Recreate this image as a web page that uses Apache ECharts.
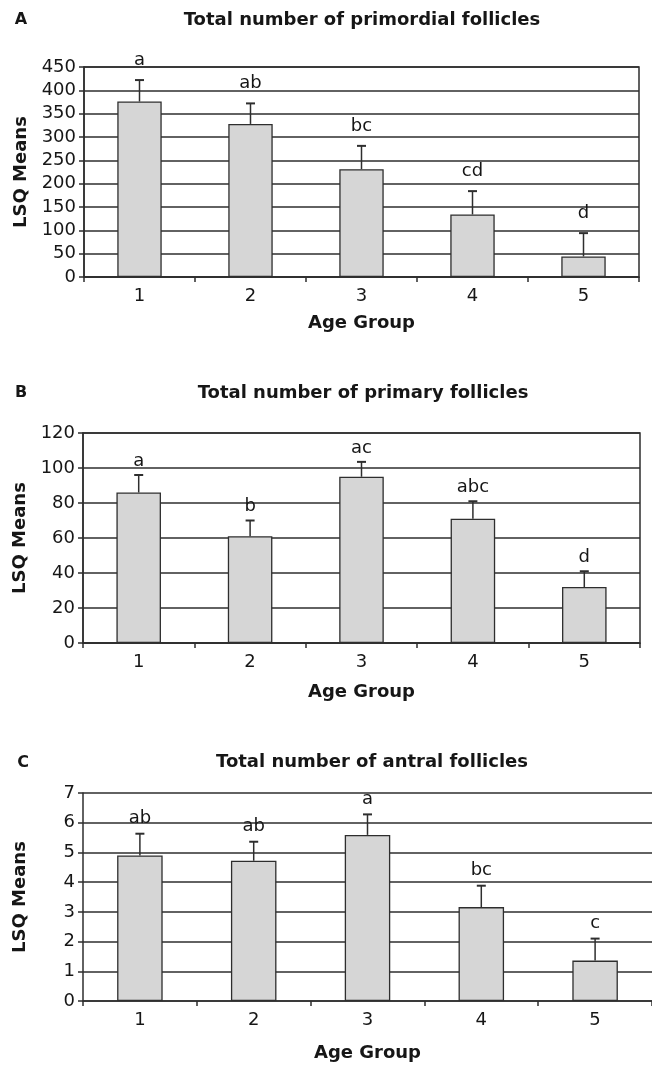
<!DOCTYPE html>
<html><head><meta charset="utf-8">
<script src="https://cdn.jsdelivr.net/npm/echarts@6/dist/echarts.min.js"></script>
<style>html,body{margin:0;padding:0;background:#fff;overflow:hidden}#c{width:652px;height:1070px}</style>
</head><body><div id="c"></div>
<script>
// ---- data ----
const categories = ['1', '2', '3', '4', '5'];

const primordialMeans   = [376, 328, 231, 134, 44];
const primordialUpper   = [422, 372, 281, 184, 94];
const primordialLetters = ['a', 'ab', 'bc', 'cd', 'd'];

const primaryMeans   = [86, 61, 95, 71, 32];
const primaryUpper   = [96, 70, 103.5, 81, 41];
const primaryLetters = ['a', 'b', 'ac', 'abc', 'd'];

const antralMeans   = [4.9, 4.72, 5.59, 3.16, 1.36];
const antralUpper   = [5.63, 5.36, 6.28, 3.88, 2.1];
const antralLetters = ['ab', 'ab', 'a', 'bc', 'c'];

const panelTitles = ['Total number of primordial follicles', 'Total number of primary follicles', 'Total number of antral follicles'];
const panelTags = ['A', 'B', 'C'];
const yAxisName = 'LSQ Means';
const xAxisName = 'Age Group';
const yScales = [{max: 450, interval: 50}, {max: 120, interval: 20}, {max: 7, interval: 1}];

// ---- layout / style ----
const FONT = '"DejaVu Sans", "Liberation Sans", Arial, sans-serif';
const DARK = '#2e2e2e';
const TXT = '#161616';
const panels = [
  {grid: {left: 84, top: 67, width: 555, height: 210}, border: true, means: primordialMeans, upper: primordialUpper, letters: primordialLetters, gap: 11, xNameGap: 37, titlePos: [362, 20], tagPos: [21, 20]},
  {grid: {left: 83, top: 433, width: 557, height: 210}, border: true, means: primaryMeans, upper: primaryUpper, letters: primaryLetters, gap: 5, xNameGap: 40, titlePos: [363, 393], tagPos: [21, 393]},
  {grid: {left: 83, top: 793, width: 575, height: 208}, border: false, means: antralMeans, upper: antralUpper, letters: antralLetters, gap: 6, xNameGap: 43, titlePos: [372, 762], tagPos: [23, 763]}
];

const grids = [], xAxes = [], yAxes = [], series = [], graphics = [];
panels.forEach((p, k) => {
  grids.push(Object.assign({show: p.border, borderColor: DARK, borderWidth: 1.5, backgroundColor: 'transparent'}, p.grid));
  xAxes.push({
    type: 'category', gridIndex: k, data: categories,
    axisLine: {lineStyle: {color: DARK, width: 1.5}},
    axisTick: {show: true, length: 5, interval: 0, lineStyle: {color: DARK, width: 1.5}},
    axisLabel: {fontSize: 18, fontFamily: FONT, color: TXT, margin: 10},
    name: xAxisName, nameLocation: 'middle', nameGap: p.xNameGap,
    nameTextStyle: {fontSize: 18, fontWeight: 'bold', fontFamily: FONT, color: TXT}
  });
  yAxes.push({
    type: 'value', gridIndex: k, min: 0, max: yScales[k].max, interval: yScales[k].interval,
    axisLine: {show: true, lineStyle: {color: DARK, width: 1.5}},
    axisTick: {show: true, length: 5, lineStyle: {color: DARK, width: 1.5}},
    splitLine: {show: true, lineStyle: {color: DARK, width: 1.5}},
    axisLabel: {fontSize: 18, fontFamily: FONT, color: TXT, margin: 8},
    name: yAxisName, nameLocation: 'middle', nameRotate: 90, nameGap: 54,
    nameTextStyle: {fontSize: 18, fontWeight: 'bold', fontFamily: FONT, color: TXT}
  });
  series.push({
    type: 'bar', xAxisIndex: k, yAxisIndex: k, data: p.means, barWidth: '40%',
    itemStyle: {color: '#d6d6d6', borderColor: DARK, borderWidth: 1.3},
    silent: true
  });
  const letters = p.letters, gap = p.gap;
  series.push({
    type: 'custom', xAxisIndex: k, yAxisIndex: k, z: 5, silent: true,
    data: p.means.map((m, i) => [i, m, p.upper[i]]),
    renderItem: function (params, api) {
      const i = api.value(0);
      const a = api.coord([i, api.value(1)]);
      const b = api.coord([i, api.value(2)]);
      const x = a[0];
      return {type: 'group', children: [
        {type: 'line', shape: {x1: x, y1: a[1], x2: x, y2: b[1]}, style: {stroke: DARK, lineWidth: 1.5}},
        {type: 'line', shape: {x1: x - 4.5, y1: b[1], x2: x + 4.5, y2: b[1]}, style: {stroke: DARK, lineWidth: 2}},
        {type: 'text', x: x, y: b[1] - gap, style: {text: letters[params.dataIndex], font: '18px ' + FONT, fill: TXT, textAlign: 'center', textVerticalAlign: 'bottom'}}
      ]};
    }
  });
  graphics.push({type: 'text', x: p.titlePos[0], y: p.titlePos[1], style: {text: panelTitles[k], font: 'bold 18px ' + FONT, fill: TXT, textAlign: 'center', textVerticalAlign: 'middle'}});
  graphics.push({type: 'text', x: p.tagPos[0], y: p.tagPos[1], style: {text: panelTags[k], font: 'bold 16px ' + FONT, fill: TXT, textAlign: 'center', textVerticalAlign: 'middle'}});
});

const chart = echarts.init(document.getElementById('c'), null, {renderer: 'canvas'});
chart.setOption({
  backgroundColor: '#ffffff',
  animation: false,
  grid: grids, xAxis: xAxes, yAxis: yAxes, series: series, graphic: graphics
});
</script>
</body></html>
